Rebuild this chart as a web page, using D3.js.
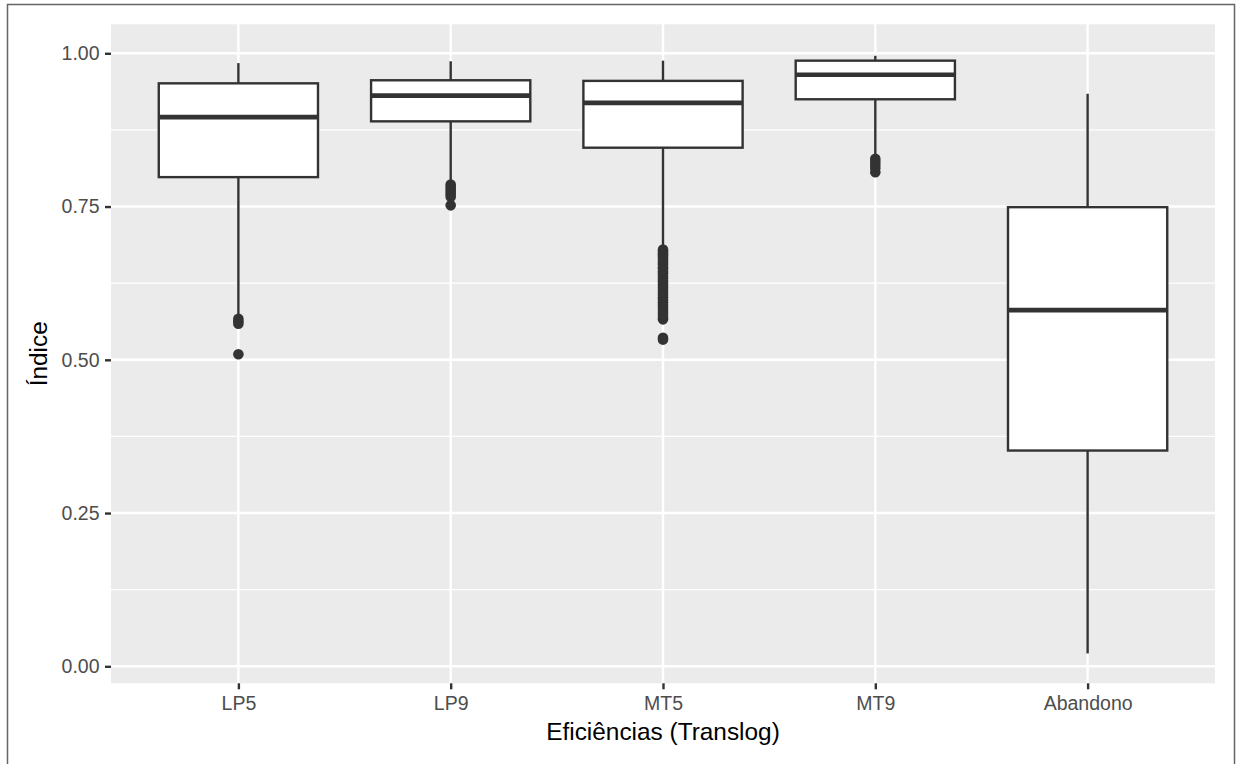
<!DOCTYPE html>
<html>
<head>
<meta charset="utf-8">
<script src="https://cdn.jsdelivr.net/npm/d3@7"></script>
<style>
  body { margin: 0; background: #fff; }
  text { font-family: "Liberation Sans", Arial, Helvetica, sans-serif; }
</style>
</head>
<body>
<div id="chart"></div>
<script>
// box stats
var categories = ["LP5", "LP9", "MT5", "MT9", "Abandono"];
var whiskerHigh = [0.984, 0.987, 0.988, 0.996, 0.934];
var q3 = [0.951, 0.956, 0.955, 0.988, 0.749];
var median = [0.896, 0.931, 0.919, 0.965, 0.581];
var q1 = [0.798, 0.889, 0.846, 0.925, 0.352];
var whiskerLow = [0.572, 0.790, 0.684, 0.833, 0.021];
var outliers = [
  [0.567, 0.563, 0.559, 0.509],
  [0.786, 0.782, 0.778, 0.774, 0.770, 0.766, 0.752],
  [0.680, 0.677, 0.674, 0.671, 0.668, 0.665, 0.661, 0.658, 0.655, 0.651,
   0.648, 0.644, 0.641, 0.637, 0.633, 0.629, 0.626, 0.622, 0.618, 0.614,
   0.610, 0.606, 0.602, 0.598, 0.594, 0.590, 0.586, 0.582, 0.578, 0.574,
   0.570, 0.566, 0.536, 0.533],
  [0.828, 0.823, 0.818, 0.813, 0.806],
  []
];
var yTicks = [0, 0.25, 0.5, 0.75, 1];
var yMinor = [0.125, 0.375, 0.625, 0.875];

var W = 1237, H = 764;
var panel = {left: 111, right: 1215, top: 24.3, bottom: 683.3};

var svg = d3.select("#chart").append("svg")
  .attr("width", W).attr("height", H);

// outer frame
svg.append("rect")
  .attr("x", 7.5).attr("y", 4.5)
  .attr("width", 1227).attr("height", 800)
  .attr("fill", "none").attr("stroke", "#666").attr("stroke-width", 1.5);

var x = d3.scalePoint().domain(categories)
  .range([panel.left, panel.right]).padding(0.6);
var y = d3.scaleLinear().domain([-0.0277, 1.0473])
  .range([panel.bottom, panel.top]);
var boxW = x.step() * 0.75;

svg.append("rect")
  .attr("x", panel.left).attr("y", panel.top)
  .attr("width", panel.right - panel.left)
  .attr("height", panel.bottom - panel.top)
  .attr("fill", "#EBEBEB");

// grid
svg.selectAll(".minor").data(yMinor).enter().append("line")
  .attr("x1", panel.left).attr("x2", panel.right)
  .attr("y1", y).attr("y2", y)
  .attr("stroke", "#fff").attr("stroke-width", 1.2);
svg.selectAll(".majorY").data(yTicks).enter().append("line")
  .attr("x1", panel.left).attr("x2", panel.right)
  .attr("y1", y).attr("y2", y)
  .attr("stroke", "#fff").attr("stroke-width", 2.4);
svg.selectAll(".majorX").data(categories).enter().append("line")
  .attr("x1", x).attr("x2", x)
  .attr("y1", panel.top).attr("y2", panel.bottom)
  .attr("stroke", "#fff").attr("stroke-width", 2.4);

// axes
var yAxis = d3.axisLeft(y).tickValues(yTicks)
  .tickFormat(d3.format(".2f")).tickSize(6).tickPadding(5.5);
var gy = svg.append("g").attr("transform", "translate(" + panel.left + ",0)").call(yAxis);
var xAxis = d3.axisBottom(x).tickSize(6).tickPadding(4);
var gx = svg.append("g").attr("transform", "translate(0," + panel.bottom + ")").call(xAxis);
[gx, gy].forEach(function(g) {
  g.select(".domain").remove();
  g.selectAll(".tick line").attr("stroke", "#333").attr("stroke-width", 2.4);
  g.selectAll(".tick text").attr("fill", "#4D4D4D")
    .style("font-size", "19.5px")
    .style("font-family", "'Liberation Sans', Arial, sans-serif");
});
gx.selectAll(".tick text").attr("dy", null).attr("y", 26.5);

// boxes
var boxes = svg.selectAll(".box").data(categories).enter().append("g");

boxes.append("line")
  .attr("x1", x).attr("x2", x)
  .attr("y1", function(d, i) { return y(q3[i]); })
  .attr("y2", function(d, i) { return y(whiskerHigh[i]); })
  .attr("stroke", "#333").attr("stroke-width", 2.4);
boxes.append("line")
  .attr("x1", x).attr("x2", x)
  .attr("y1", function(d, i) { return y(q1[i]); })
  .attr("y2", function(d, i) { return y(whiskerLow[i]); })
  .attr("stroke", "#333").attr("stroke-width", 2.4);

boxes.each(function(d, i) {
  d3.select(this).selectAll("circle").data(outliers[i]).enter().append("circle")
    .attr("cx", x(d)).attr("cy", y).attr("r", 5.3)
    .attr("fill", "#333");
});

boxes.append("rect")
  .attr("x", function(d) { return x(d) - boxW / 2; })
  .attr("y", function(d, i) { return y(q3[i]); })
  .attr("width", boxW)
  .attr("height", function(d, i) { return y(q1[i]) - y(q3[i]); })
  .attr("fill", "#fff").attr("stroke", "#333").attr("stroke-width", 2.4);
boxes.append("line")
  .attr("x1", function(d) { return x(d) - boxW / 2; })
  .attr("x2", function(d) { return x(d) + boxW / 2; })
  .attr("y1", function(d, i) { return y(median[i]); })
  .attr("y2", function(d, i) { return y(median[i]); })
  .attr("stroke", "#333").attr("stroke-width", 4.7);

// titles
svg.append("text")
  .attr("x", (panel.left + panel.right) / 2).attr("y", 740)
  .attr("text-anchor", "middle").attr("fill", "#000")
  .style("font-size", "24.4px")
  .text("Eficiências (Translog)");
svg.append("text")
  .attr("transform", "translate(47," + (panel.top + panel.bottom) / 2 + ") rotate(-90)")
  .attr("text-anchor", "middle").attr("fill", "#000")
  .style("font-size", "24.4px")
  .text("Índice");
</script>
</body>
</html>
